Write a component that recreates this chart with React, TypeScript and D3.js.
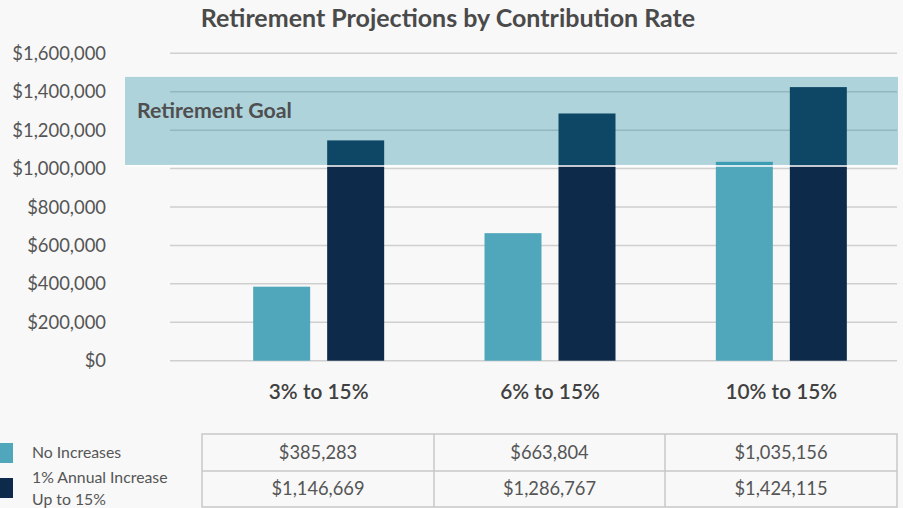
import React from "react";
import * as d3 from "d3";

const categories = ["3% to 15%", "6% to 15%", "10% to 15%"];
const noIncreases = [385283, 663804, 1035156];
const annualIncrease = [1146669, 1286767, 1424115];
const yTicks = [0, 200000, 400000, 600000, 800000, 1000000, 1200000, 1400000, 1600000];
const goalRange = [1019000, 1477000];
const seriesNames = ["No Increases", "1% Annual Increase|Up to 15%"];

const W = 903;
const H = 508;
const FONT = "Lato, 'Open Sans', sans-serif";
const LIGHT = "#50a7bc";
const DARK = "#0d2a4a";

export default function App() {
  const y = d3.scaleLinear().domain([0, 1600000]).range([360.7, 53.3]);
  const x0 = d3.scaleBand().domain(categories).range([203, 897]).paddingInner(0).paddingOuter(0);
  const x1 = d3
    .scaleBand()
    .domain(["a", "b"])
    .range([x0.bandwidth() / 2 - 65.5, x0.bandwidth() / 2 + 65.5])
    .paddingInner(17 / 74)
    .paddingOuter(0);
  const fmt = d3.format("$,.0f");
  const series = [noIncreases, annualIncrease];
  const colX = [202, 434, 665, 897];

  return (
    <svg
      width={W}
      height={H}
      style={{ position: "absolute", left: 0, top: 0, background: "#f8f8f8" }}
      fontFamily={FONT}
    >
      <rect x={0} y={0} width={W} height={H} fill="#f8f8f8" />
      <text x={448} y={27} textAnchor="middle" fontSize={25} fontWeight={700} fill="#4a4a4a">
        Retirement Projections by Contribution Rate
      </text>
      {yTicks.map((t) => (
        <g key={t}>
          <line x1={170} x2={897} y1={y(t)} y2={y(t)} stroke="#cfcfcf" strokeWidth={1.5} />
          <text x={106} y={y(t) + 6.5} textAnchor="end" fontSize={18.4} fill="#555">
            {fmt(t)}
          </text>
        </g>
      ))}
      {categories.map((c, i) => (
        <g key={c} transform={`translate(${x0(c)},0)`}>
          {series.map((s, j) => (
            <rect
              key={j}
              x={x1(j === 0 ? "a" : "b")}
              width={x1.bandwidth()}
              y={y(s[i])}
              height={y(0) - y(s[i])}
              fill={j === 0 ? LIGHT : DARK}
            />
          ))}
          <text
            x={x0.bandwidth() / 2}
            y={399}
            textAnchor="middle"
            fontSize={20.8}
            fontWeight={600}
            fill="#404040"
          >
            {c}
          </text>
        </g>
      ))}
      <rect
        x={125}
        width={898 - 125}
        y={y(goalRange[1])}
        height={y(goalRange[0]) - y(goalRange[1])}
        fill="rgb(19,135,160)"
        fillOpacity={0.32}
      />
      <line x1={125} x2={898} y1={y(goalRange[0]) + 1} y2={y(goalRange[0]) + 1} stroke="#fff" strokeWidth={1.5} />
      <text x={137} y={118} fontSize={21.3} fontWeight={700} fill="#4f4f4f">
        Retirement Goal
      </text>

      {/* legend */}
      <rect x={0} y={443} width={13} height={20} fill={LIGHT} />
      <rect x={0} y={478} width={13} height={20} fill={DARK} />
      <text x={32} y={458} fontSize={15.8} fill="#555">
        {seriesNames[0]}
      </text>
      {seriesNames[1].split("|").map((l, k) => (
        <text key={k} x={32} y={483 + k * 22} fontSize={15.8} fill="#555">
          {l}
        </text>
      ))}

      {/* table */}
      <g>
        <rect x={202} y={434} width={695} height={73} fill="none" stroke="#c8c8c8" strokeWidth={1.5} />
        <line x1={202} x2={897} y1={471} y2={471} stroke="#c8c8c8" strokeWidth={1.5} />
        {colX.slice(1, 3).map((cx) => (
          <line key={cx} x1={cx} x2={cx} y1={434} y2={507} stroke="#c8c8c8" strokeWidth={1.5} />
        ))}
        {series.map((s, j) =>
          s.map((v, i) => (
            <text
              key={`${j}-${i}`}
              x={(colX[i] + colX[i + 1]) / 2}
              y={459 + j * 36}
              textAnchor="middle"
              fontSize={18.3}
              fill="#555"
            >
              {fmt(v)}
            </text>
          ))
        )}
      </g>
    </svg>
  );
}
